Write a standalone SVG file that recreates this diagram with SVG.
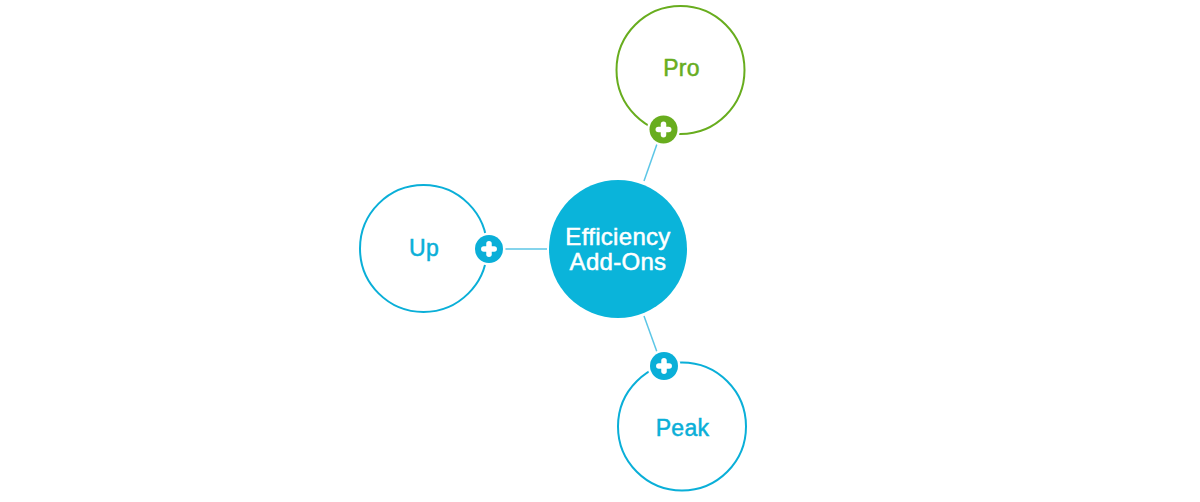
<svg xmlns="http://www.w3.org/2000/svg" width="1200" height="502" viewBox="0 0 1200 502">
<style>
.ring{fill:#fff;stroke-width:2}
.blue{stroke:#0aafd8}
.green{stroke:#68ad1e}
.lbl{font-family:"Liberation Sans",Arial,sans-serif;font-size:23px;text-anchor:middle;stroke-width:0.5;letter-spacing:0.3px}
.bl{fill:#0aafd8;stroke:#0aafd8}
.gr{fill:#68ad1e;stroke:#68ad1e}
.wh{fill:#fff;stroke:#fff;font-size:24px}
.conn{stroke:#5cc6e6;stroke-width:1.5;fill:none}
.plus{stroke:#fff;stroke-width:5.5;stroke-linecap:round}
</style>
<defs>
<g id="plusIcon">
<circle r="16.5" fill="#fff"/>
<circle r="14"/>
<line class="plus" x1="-5.2" y1="0" x2="5.2" y2="0"/>
<line class="plus" x1="0" y1="-5.2" x2="0" y2="5.2"/>
</g>
</defs>
<rect width="1200" height="502" fill="#fff"/>
<g id="connectors">
<line class="conn" x1="505" y1="249" x2="547" y2="249"/>
<line class="conn" x1="657" y1="144" x2="644" y2="181"/>
<line class="conn" x1="644" y1="316" x2="657" y2="352"/>
</g>
<g id="center">
<circle cx="618" cy="249" r="69" fill="#0ab4da"/>
<text class="lbl wh" x="618" y="244.5">Efficiency</text>
<text class="lbl wh" x="618" y="270">Add-Ons</text>
</g>
<g id="pro">
<circle class="ring green" cx="680.5" cy="70" r="64"/>
<text class="lbl gr" x="681.5" y="76">Pro</text>
<use href="#plusIcon" x="663.5" y="129.5" fill="#68ad1e"/>
</g>
<g id="up">
<circle class="ring blue" cx="423.5" cy="248.5" r="63.5"/>
<text class="lbl bl" x="424" y="255.5">Up</text>
<use href="#plusIcon" x="489" y="249" fill="#0aafd8"/>
</g>
<g id="peak">
<circle class="ring blue" cx="682" cy="426.5" r="64"/>
<text class="lbl bl" x="682.5" y="436">Peak</text>
<use href="#plusIcon" x="664" y="366" fill="#0aafd8"/>
</g>
</svg>
